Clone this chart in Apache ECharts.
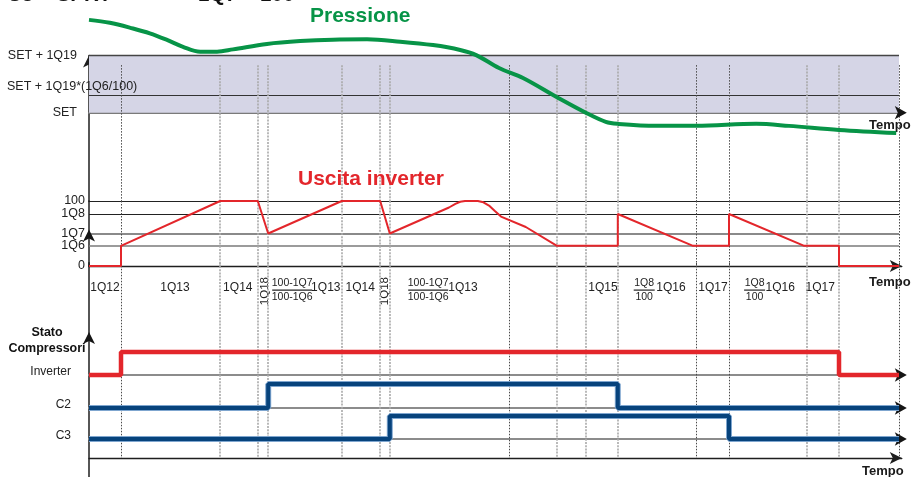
<!DOCTYPE html>
<html>
<head>
<meta charset="utf-8">
<script src="https://cdn.jsdelivr.net/npm/echarts@6/dist/echarts.min.js"></script>
<style>
  html, body { margin: 0; padding: 0; background: #fff; }
  #chart { width: 916px; height: 477px; }
</style>
</head>
<body>
<div id="chart"></div>
<script>
// ---- fonts ---------------------------------------------------------------
const SANS = "'Liberation Sans',Arial,sans-serif";

// ---- time base (arbitrary units, 0 = start of the sequence) --------------
const timeEnd = 101.6;     // end of every time axis (arrow)
const traceEnd = 101.25;   // end of traces and reference lines
const phaseEdges = [4, 16.4, 21.1, 22.4, 31.6, 36.4, 37.6, 52.5, 58.5, 62.1, 66.1, 75.9, 80, 89.75, 93.75, 101.25];
const darkEdges = [4, 52.5, 75.9, 80, 101.25];

// ---- parameters ----------------------------------------------------------
const SET = 0, Q19 = 10, Q6 = 31, Q7 = 50, Q8 = 80;

// ---- pressure trace (relative to SET) -------------------------------------
const pressureT = [0, 2.6, 5.5, 7.6, 9.75, 11.75, 13.9, 16, 18, 22.25, 26.4, 30.5, 34.75, 38.9, 43, 46.4, 48.4, 51.25, 54.25, 58.5, 62.1, 64.6, 66.1, 70.9, 75.9, 83.4, 87.5, 93.75, 100.9];
const pressureV = [16.2, 15.7, 14.7, 13.85, 12.7, 11.5, 10.65, 10.65, 11.05, 12.0, 12.5, 12.75, 12.8, 12.4, 11.8, 10.95, 10.05, 7.8, 6.05, 2.7, 0, -1.6, -1.95, -2.3, -2.3, -1.95, -2.3, -3.0, -3.55];

// ---- inverter output (%) -------------------------------------------------
const inverterT = [0, 4, 4, 16.4, 21.1, 22.4, 31.6, 36.4, 37.6, 45.0, 45.8, 46.4, 47.0, 48.6, 49.3, 50.0, 50.7, 51.5, 54.6, 58.5, 66.1, 66.1, 75.5, 80, 80, 89.4, 93.75, 93.75, 101.25];
const inverterV = [0, 0, 31, 100, 100, 50, 100, 100, 50, 90, 95.5, 98.8, 100, 100, 98, 93, 85, 76, 60, 31, 31, 80, 31, 31, 80, 31, 31, 0, 0];

// ---- compressor state: [switch on, switch off] ----------------------------
const inverterSwitch = [4, 93.75];
const c2Switch = [22.4, 66.1];
const c3Switch = [37.6, 80];
const compressorNames = ['Inverter', 'C2', 'C3'];

// ---- tick labels ---------------------------------------------------------
const pressureTickValues = [SET, SET + Q19];
const pressureTickTexts = ['SET', 'SET + 1Q19'];
const pressureMidText = 'SET + 1Q19*(1Q6/100)';

const outputTickValues = [0, Q6, Q7, Q8, 100];
const outputTickTexts = ['0', '1Q6', '1Q7', '1Q8', '100'];

const phaseLabelTimes = [2.0, 10.75, 18.6, 25.4, 29.6, 33.9, 42.4, 46.75, 64.25, 69.4, 72.75, 78, 83.2, 86.4, 91.4];
const phaseLabelTexts = ['1Q12', '1Q13', '1Q14', '100-1Q7/100-1Q6', '1Q13', '1Q14', '100-1Q7/100-1Q6', '1Q13', '1Q15', '1Q8/100', '1Q16', '1Q17', '1Q8/100', '1Q16', '1Q17'];
const rotatedLabelTimes = [22, 37];
const rotatedLabelTexts = ['1Q18', '1Q18'];

// ---- colours -------------------------------------------------------------
const GREEN = '#079447';
const RED = '#e3262b';
const BLUE = '#07437c';
const BLUE_EDGE = '#7fa6cf';
const BAND = '#d5d5e6';
const INK = '#1e1e1e';

// ---- helpers -------------------------------------------------------------
const zip = (xs, ys) => xs.map((x, i) => [x, ys[i]]);
const lookup = (values, texts) => v => {
  const i = values.findIndex(x => Math.abs(x - v) < 1e-9);
  return i < 0 ? '' : texts[i];
};
const stepData = sw => [[0, 0], [sw[0], 1], [sw[1], 0], [traceEnd, 0]];
const pressureMidValue = SET + Q19 * Q6 / 100;

const edgeStyle = t => darkEdges.includes(t)
  ? { color: '#4a4a4a', width: 1, type: [1.5, 1.5] }
  : { color: '#a9a9a9', width: 1.6, type: [2, 1.2] };
const edgeLines = (yTop, yBottom) => phaseEdges.map(t => [
  { coord: [t, yTop], lineStyle: edgeStyle(t) },
  { coord: [t, yBottom] }
]);
const hLine = (y, style) => [{ coord: [0, y], lineStyle: style }, { coord: [traceEnd, y] }];

const arrowRight = {
  symbol: 'arrow', symbolSize: [10, 12], symbolRotate: -90, symbolOffset: [5, 0],
  itemStyle: { color: '#151515' }, label: { show: false },
  data: [{ coord: [timeEnd, 0] }]
};
const arrowUp = coord => ({
  symbol: 'arrow', symbolSize: [9, 12], symbolOffset: [0, -4],
  itemStyle: { color: '#151515' }, label: { show: false },
  data: [{ coord: coord }]
});

const PX_PER_T = 8;
const LEFT = 89;
const RIGHT = 916 - LEFT - timeEnd * PX_PER_T;

// phase labels; "a/b" is drawn as a stacked fraction
const phaseFormatter = v => {
  const txt = lookup(phaseLabelTimes, phaseLabelTexts)(v);
  if (!txt) return '';
  if (txt.includes('/')) {
    const [a, b] = txt.split('/');
    const bar = a.length > 4 ? '{barL|}' : '{barS|}';
    return `{num|${a}}\n${bar}\n{num|${b}}`;
  }
  return `{p|${txt}}`;
};

const tempoName = (gap, padTop) => ({
  name: 'Tempo', nameLocation: 'end', nameGap: gap,
  nameTextStyle: {
    fontFamily: SANS, fontWeight: 'bold', fontSize: 13, color: '#1a1a1a',
    align: 'center', verticalAlign: 'top', lineHeight: 13, padding: [padTop, 0, 0, 0]
  }
});

const noAxisBits = { axisTick: { show: false }, splitLine: { show: false } };
const gridBase = { left: LEFT, right: RIGHT, outerBoundsMode: 'none', containLabel: false };

const grids = [
  Object.assign({ top: 55.4, height: 146.1 }, gridBase),   // 0 pressure
  Object.assign({ top: 201, height: 65 }, gridBase),       // 1 inverter output
  Object.assign({ top: 262.8, height: 219.6 }, gridBase),  // 2 compressor frame
  Object.assign({ top: 352, height: 23 }, gridBase),       // 3 inverter state
  Object.assign({ top: 384, height: 24 }, gridBase),       // 4 C2 state
  Object.assign({ top: 416, height: 23 }, gridBase)        // 5 C3 state
];

const xAxes = [
  Object.assign({
    gridIndex: 0, type: 'value', min: 0, max: timeEnd,
    axisLine: { onZero: true, lineStyle: { color: '#7a7a7a', width: 2 } },
    axisLabel: { show: false }
  }, noAxisBits, tempoName(-12, 6)),
  Object.assign({
    gridIndex: 1, type: 'value', min: 0, max: timeEnd, position: 'bottom',
    axisLine: { onZero: false, symbol: ['none', 'arrow'], symbolSize: [9, 12], lineStyle: { color: INK, width: 1.3 } },
    axisLabel: {
      customValues: phaseLabelTimes, formatter: phaseFormatter, margin: 11,
      showMinLabel: true, showMaxLabel: true,
      color: '#222', fontFamily: SANS,
      rich: {
        p: { fontSize: 12, lineHeight: 21, fontFamily: SANS, color: '#222' },
        num: { fontSize: 10.5, lineHeight: 12.5, fontFamily: SANS, color: '#222' },
        barL: { width: 40, height: 1.2, backgroundColor: '#222' },
        barS: { width: 21, height: 1.2, backgroundColor: '#222' }
      }
    }
  }, noAxisBits, tempoName(-12, 10)),
  Object.assign({
    gridIndex: 1, type: 'value', min: 0, max: timeEnd, position: 'bottom',
    axisLine: { show: false, onZero: false },
    axisLabel: {
      customValues: rotatedLabelTimes, rotate: 90, margin: 11,
      formatter: lookup(rotatedLabelTimes, rotatedLabelTexts),
      color: '#222', fontFamily: SANS, fontSize: 11.5
    }
  }, noAxisBits),
  Object.assign({
    gridIndex: 2, type: 'value', min: 0, max: timeEnd,
    axisLine: { onZero: true, symbol: ['none', 'arrow'], symbolSize: [9, 12], lineStyle: { color: INK, width: 1.3 } },
    axisLabel: { show: false }
  }, noAxisBits, tempoName(-19, 7)),
  ...[3, 4, 5].map(g => Object.assign({
    gridIndex: g, type: 'value', min: 0, max: timeEnd,
    axisLine: { onZero: true, lineStyle: { color: '#8c8c8c', width: 2 } },
    axisLabel: { show: false }
  }, noAxisBits))
];

const yAxes = [
  Object.assign({
    gridIndex: 0, type: 'value', min: -15.5, max: SET + Q19, position: 'left',
    axisLine: { show: true, symbol: ['none', 'arrow'], symbolSize: [9, 12], lineStyle: { color: INK, width: 1.5 } },
    axisLabel: {
      customValues: pressureTickValues, formatter: lookup(pressureTickValues, pressureTickTexts),
      showMinLabel: true, showMaxLabel: true,
      margin: 12, color: '#222', fontFamily: SANS, fontSize: 12.5
    }
  }, noAxisBits),
  Object.assign({
    gridIndex: 1, type: 'value', min: 0, max: 100, position: 'left',
    axisLine: { show: true, lineStyle: { color: INK, width: 1.5 } },
    axisLabel: {
      customValues: outputTickValues, formatter: lookup(outputTickValues, outputTickTexts),
      showMinLabel: true, showMaxLabel: true, hideOverlap: false,
      margin: 4, color: '#222', fontFamily: SANS, fontSize: 12.5, lineHeight: 12
    }
  }, noAxisBits),
  Object.assign({
    gridIndex: 2, type: 'value', min: -0.2, max: 1.6, position: 'left',
    axisLine: { show: true, lineStyle: { color: INK, width: 1.5 } },
    axisLabel: { show: false }
  }, noAxisBits),
  ...[3, 4, 5].map((g, i) => Object.assign({
    gridIndex: g, type: 'value', min: 0, max: 1, position: 'left',
    axisLine: { show: false },
    axisLabel: {
      customValues: [0], formatter: () => compressorNames[i],
      showMinLabel: true,
      margin: 18, verticalAlign: 'bottom', lineHeight: 7,
      color: '#222', fontFamily: SANS, fontSize: 12
    }
  }, noAxisBits))
];

const series = [
  // pressure band SET .. SET + 1Q19, its limit lines and the phase lines
  {
    type: 'line', xAxisIndex: 0, yAxisIndex: 0, data: [], z: 1, silent: true, clip: false,
    markArea: {
      silent: true, itemStyle: { color: BAND },
      data: [[{ coord: [0, SET] }, { coord: [traceEnd, SET + Q19] }]]
    },
    markLine: {
      silent: true, symbol: ['none', 'none'], label: { show: false },
      data: [
        hLine(SET + Q19, { color: '#454545', width: 1.4, type: 'solid' }),
        hLine(pressureMidValue, { color: '#333', width: 1.2, type: 'solid' }),
        ...edgeLines(8.3, -15.5)
      ]
    }
  },
  // pressure trace
  {
    name: 'Pressione', type: 'line', xAxisIndex: 0, yAxisIndex: 0, z: 5,
    data: zip(pressureT, pressureV), smooth: 0.35, symbol: 'none', clip: false,
    lineStyle: { color: GREEN, width: 4 },
    markPoint: arrowRight
  },
  // inverter output with its threshold lines
  {
    name: 'Uscita inverter', type: 'line', xAxisIndex: 1, yAxisIndex: 1, z: 5,
    data: zip(inverterT, inverterV), symbol: 'none', clip: false,
    lineStyle: { color: RED, width: 2 },
    markLine: {
      silent: true, symbol: ['none', 'none'], label: { show: false }, z: 1,
      data: [
        hLine(100, { color: '#222', width: 1.1, type: 'solid' }),
        hLine(Q8, { color: '#222', width: 1.1, type: 'solid' }),
        hLine(Q7, { color: '#8a8a8a', width: 1.8, type: 'solid' }),
        hLine(Q6, { color: '#7a7a7a', width: 1.6, type: 'solid' }),
        ...edgeLines(100, 0)
      ]
    },
    markPoint: arrowUp([0, Q7])
  },
  // phase lines and axis arrow in the compressor section
  {
    type: 'line', xAxisIndex: 3, yAxisIndex: 2, data: [], z: 1, silent: true, clip: false,
    markLine: {
      silent: true, symbol: ['none', 'none'], label: { show: false },
      data: edgeLines(1.6, 0)
    },
    markPoint: arrowUp([0, 1])
  },
  // inverter compressor state
  {
    name: 'Inverter', type: 'line', xAxisIndex: 4, yAxisIndex: 3, z: 6,
    data: stepData(inverterSwitch), step: 'end', symbol: 'none', clip: false,
    lineStyle: { color: RED, width: 4.5 },
    markPoint: arrowRight
  },
  // C2 (light rim under a dark core)
  {
    type: 'line', xAxisIndex: 5, yAxisIndex: 4, z: 5,
    data: stepData(c2Switch), step: 'end', symbol: 'none', clip: false,
    lineStyle: { color: BLUE_EDGE, width: 6 }
  },
  {
    name: 'C2', type: 'line', xAxisIndex: 5, yAxisIndex: 4, z: 6,
    data: stepData(c2Switch), step: 'end', symbol: 'none', clip: false,
    lineStyle: { color: BLUE, width: 4 },
    markPoint: arrowRight
  },
  // C3
  {
    type: 'line', xAxisIndex: 6, yAxisIndex: 5, z: 5,
    data: stepData(c3Switch), step: 'end', symbol: 'none', clip: false,
    lineStyle: { color: BLUE_EDGE, width: 6 }
  },
  {
    name: 'C3', type: 'line', xAxisIndex: 6, yAxisIndex: 5, z: 6,
    data: stepData(c3Switch), step: 'end', symbol: 'none', clip: false,
    lineStyle: { color: BLUE, width: 4 },
    markPoint: arrowRight
  }
];

const titles = [
  { text: 'C3 = SPRT', left: 7, top: -15.5, padding: 0,
    textStyle: { fontFamily: SANS, fontWeight: 'bold', fontSize: 20.5, lineHeight: 22, color: '#111' } },
  { text: '1Q7 < 100', left: 198, top: -15.5, padding: 0,
    textStyle: { fontFamily: SANS, fontWeight: 'bold', fontSize: 20.5, lineHeight: 22, color: '#111' } },
  { text: 'Pressione', left: 310, top: 6, padding: 0,
    textStyle: { fontFamily: SANS, fontWeight: 'bold', fontSize: 21, lineHeight: 21, color: GREEN } },
  { text: 'Uscita inverter', left: 298, top: 168.5, padding: 0,
    textStyle: { fontFamily: SANS, fontWeight: 'bold', fontSize: 21, lineHeight: 21, color: RED } },
  { text: pressureMidText, left: 7, top: 80, padding: 0,
    textStyle: { fontFamily: SANS, fontWeight: 'normal', fontSize: 12.5, lineHeight: 14, color: '#222' } },
  { text: 'Stato\nCompressori', left: 47, top: 325, padding: 0, textAlign: 'center',
    textStyle: { fontFamily: SANS, fontWeight: 'bold', fontSize: 12.5, lineHeight: 16, color: '#111', align: 'center' } }
];

const chart = echarts.init(document.getElementById('chart'));
chart.setOption({
  animation: false,
  backgroundColor: '#ffffff',
  title: titles,
  grid: grids,
  xAxis: xAxes,
  yAxis: yAxes,
  series: series
});
</script>
</body>
</html>
